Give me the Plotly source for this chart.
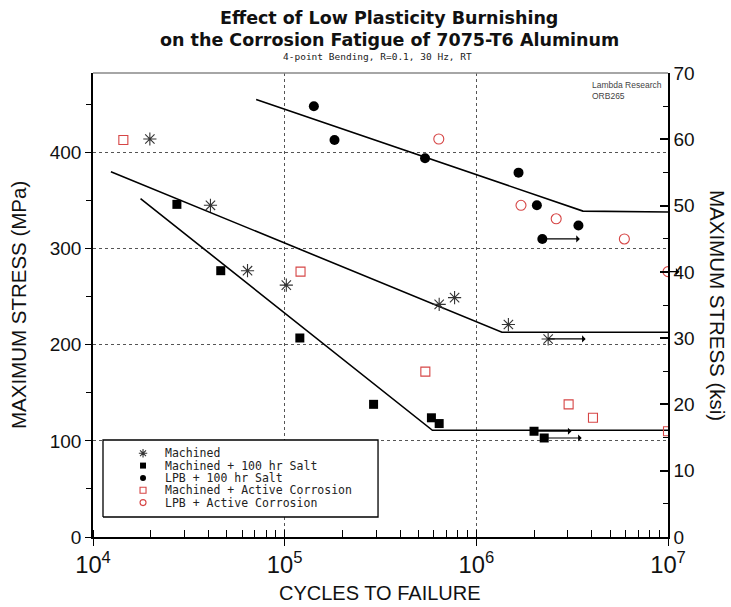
import math
import plotly.graph_objects as go

# ---- fatigue data (cycles to failure, maximum stress in MPa) ----
machined_cycles = [1.98e4, 4.1e4, 6.4e4, 1.02e5, 6.4e5, 7.7e5, 1.47e6, 2.37e6]
machined_stress = [414, 345, 277, 262, 242, 249, 221, 206]
machined_runout = [False, False, False, False, False, False, False, True]

salt_cycles = [2.74e4, 4.64e4, 1.2e5, 2.91e5, 5.83e5, 6.4e5, 2.0e6, 2.26e6]
salt_stress = [346, 277, 207, 138, 124, 118, 110, 103]
salt_runout = [False, False, False, False, False, False, True, True]

lpb_salt_cycles = [1.42e5, 1.82e5, 5.4e5, 1.66e6, 2.07e6, 2.21e6, 3.41e6]
lpb_salt_stress = [448, 413, 394, 379, 345, 310, 324]
lpb_salt_runout = [False, False, False, False, False, True, False]

mach_corr_cycles = [1.44e4, 1.21e5, 5.42e5, 3.03e6, 4.06e6, 1.0e7]
mach_corr_stress = [413, 276, 172, 138, 124, 110]
mach_corr_runout = [False, False, False, False, False, False]

lpb_corr_cycles = [6.37e5, 1.71e6, 2.61e6, 5.92e6, 1.0e7]
lpb_corr_stress = [414, 345, 331, 310, 276]
lpb_corr_runout = [False, False, False, False, True]

# ---- bilinear S-N fits (knots) ----
machined_fit_cycles = [1.24e4, 1.36e6, 1.0e7]
machined_fit_stress = [380, 213, 213]
salt_fit_cycles = [1.77e4, 5.9e5, 1.0e7]
salt_fit_stress = [352, 111, 111]
lpb_fit_cycles = [7.1e4, 3.6e6, 1.0e7]
lpb_fit_stress = [455, 339, 338]

legend_labels = [
    "Machined",
    "Machined + 100 hr Salt",
    "LPB + 100 hr Salt",
    "Machined + Active Corrosion",
    "LPB + Active Corrosion",
]

MPA_PER_KSI = 6.89476
KSI_MAX = 70

RED = "#d64545"
SANS = "Liberation Sans, Arial, sans-serif"
TITLE_FONT = "DejaVu Sans, Verdana, sans-serif"
MONO = "DejaVu Sans Mono, monospace"

series = [
    (machined_cycles, machined_stress, machined_runout,
     dict(symbol="asterisk-open", size=11, color="#333", line=dict(color="#333", width=1.1))),
    (salt_cycles, salt_stress, salt_runout,
     dict(symbol="square", size=9, color="black")),
    (lpb_salt_cycles, lpb_salt_stress, lpb_salt_runout,
     dict(symbol="circle", size=10, color="black")),
    (mach_corr_cycles, mach_corr_stress, mach_corr_runout,
     dict(symbol="square-open", size=9, color=RED, line=dict(color=RED, width=1.1))),
    (lpb_corr_cycles, lpb_corr_stress, lpb_corr_runout,
     dict(symbol="circle-open", size=10, color=RED, line=dict(color=RED, width=1.1))),
]

fig = go.Figure()

# fit lines
for fc, fs in [(machined_fit_cycles, machined_fit_stress),
               (salt_fit_cycles, salt_fit_stress),
               (lpb_fit_cycles, lpb_fit_stress)]:
    fig.add_trace(go.Scatter(x=fc, y=fs, mode="lines",
                             line=dict(color="black", width=1.6),
                             showlegend=False, hoverinfo="skip"))

# data points
for (cyc, st, ro, mk), name in zip(series, legend_labels):
    fig.add_trace(go.Scatter(x=cyc, y=st, mode="markers", name=name,
                             marker=mk, showlegend=False))

# runout arrows (tests stopped without failure)
annotations = []
for cyc, st, ro, mk in series:
    for c, s, r in zip(cyc, st, ro):
        if r:
            length = 39 if c < 1e7 else 13
            annotations.append(dict(
                x=math.log10(c), y=s, xref="x", yref="y", text="",
                showarrow=True, ax=length, ay=0, arrowside="start",
                arrowhead=2, arrowsize=1, arrowwidth=1.2, arrowcolor="black",
                standoff=0, startstandoff=0))

# ksi axis companion trace (keeps the right-hand axis drawn)
fig.add_trace(go.Scatter(x=[None], y=[None], yaxis="y2", showlegend=False,
                         hoverinfo="skip"))

# ---- key box drawn on an overlay in paper-like units ----
box_x0, box_x1, box_y0, box_y1 = 0.0174, 0.4957, 0.0431, 0.209
fig.add_trace(go.Scatter(
    x=[box_x0, box_x1, box_x1, box_x0, box_x0],
    y=[box_y0, box_y0, box_y1, box_y1, box_y0],
    mode="lines", fill="toself", fillcolor="white",
    line=dict(color="black", width=1.3),
    xaxis="x3", yaxis="y3", showlegend=False, hoverinfo="skip"))

row_top = 0.1805
row_step = 0.0266
sym_x = 0.087
text_x = 0.122
for i, ((cyc, st, ro, mk), name) in enumerate(zip(series, legend_labels)):
    ry = row_top - i * row_step
    small = dict(mk)
    small["size"] = max(6, mk["size"] - 4)
    fig.add_trace(go.Scatter(x=[sym_x], y=[ry], mode="markers", marker=small,
                             xaxis="x3", yaxis="y3", showlegend=False,
                             hoverinfo="skip", cliponaxis=False))
    annotations.append(dict(x=text_x, y=ry, xref="paper", yref="paper",
                            text=name, showarrow=False, xanchor="left",
                            yanchor="middle",
                            font=dict(family=MONO, size=11.5, color="#222")))

# titles and labels
annotations += [
    dict(x=0.515, y=1.1185, xref="paper", yref="paper", showarrow=False,
         xanchor="center", yanchor="middle",
         text="<b>Effect of Low Plasticity Burnishing</b>",
         font=dict(family=TITLE_FONT, size=17.5, color="#111")),
    dict(x=0.515, y=1.071, xref="paper", yref="paper", showarrow=False,
         xanchor="center", yanchor="middle",
         text="<b>on the Corrosion Fatigue of 7075-T6 Aluminum</b>",
         font=dict(family=TITLE_FONT, size=17.5, color="#111")),
    dict(x=0.495, y=1.036, xref="paper", yref="paper", showarrow=False,
         xanchor="center", yanchor="middle",
         text="4-point Bending, R=0.1, 30 Hz, RT",
         font=dict(family=MONO, size=9.5, color="#222")),
    dict(x=0.993, y=0.99, xref="paper", yref="paper", showarrow=False,
         text="Lambda Research<br>ORB265", align="left",
         xanchor="right", yanchor="top",
         font=dict(family=SANS, size=8.5, color="#444")),
    dict(x=-0.1304, y=0.5, xref="paper", yref="paper", showarrow=False,
         xanchor="center", yanchor="middle",
         text="MAXIMUM STRESS (MPa)", textangle=-90,
         font=dict(family=SANS, size=20.5, color="#111")),
    dict(x=1.087, y=0.5, xref="paper", yref="paper", showarrow=False,
         xanchor="center", yanchor="middle",
         text="MAXIMUM STRESS (ksi)", textangle=90,
         font=dict(family=SANS, size=20.5, color="#111")),
    dict(x=0.499, y=-0.1207, xref="paper", yref="paper", showarrow=False,
         xanchor="center", yanchor="middle",
         text="CYCLES TO FAILURE",
         font=dict(family=SANS, size=20, color="#111")),
]

fig.update_layout(
    width=731, height=607,
    margin=dict(l=93, r=63, t=73, b=70),
    paper_bgcolor="white", plot_bgcolor="white",
    showlegend=False,
    annotations=annotations,
    font=dict(family=SANS, size=18, color="#111"),
    xaxis=dict(
        type="log", range=[4, 7], dtick=1, exponentformat="power",
        showline=True, linecolor="black", linewidth=1.5, mirror=False,
        ticks="outside", ticklen=7, tickwidth=1.3, tickcolor="black",
        minor=dict(ticks="inside", ticklen=7, tickwidth=1.3, tickcolor="black",
                   dtick="D1", showgrid=False),
        showgrid=True, gridcolor="#555", griddash="dot", gridwidth=1,
        zeroline=False, tickfont=dict(size=19),
    ),
    yaxis=dict(
        range=[0, KSI_MAX * MPA_PER_KSI], dtick=100, tick0=0,
        showline=True, linecolor="black", linewidth=1.5,
        ticks="outside", ticklen=6, tickwidth=1.3, tickcolor="black",
        minor=dict(ticks="outside", ticklen=5, tickwidth=1.3,
                   tickcolor="black", dtick=50, showgrid=False),
        showgrid=True, gridcolor="#555", griddash="dot", gridwidth=1,
        zeroline=False, tickfont=dict(size=19),
    ),
    yaxis2=dict(
        overlaying="y", side="right", range=[0, KSI_MAX], dtick=10, tick0=0,
        showline=True, linecolor="black", linewidth=1.5,
        ticks="inside", ticklen=8, tickwidth=1.5, tickcolor="black",
        minor=dict(ticks="inside", ticklen=5, tickwidth=1.3,
                   tickcolor="black", dtick=5, showgrid=False),
        showgrid=False, zeroline=False, tickfont=dict(size=19),
    ),
    xaxis3=dict(overlaying="x", range=[0, 1], visible=False, fixedrange=True),
    yaxis3=dict(overlaying="y", range=[0, 1], visible=False, fixedrange=True,
                anchor="x3"),
    shapes=[dict(type="line", xref="paper", yref="paper", x0=0, x1=1, y0=1, y1=1,
                 line=dict(color="#888", width=1.5))],
)
# overlay traces reference x3 together with y3
for tr in fig.data:
    if tr.yaxis == "y3":
        tr.xaxis = "x3"

fig.write_html("out.html")
